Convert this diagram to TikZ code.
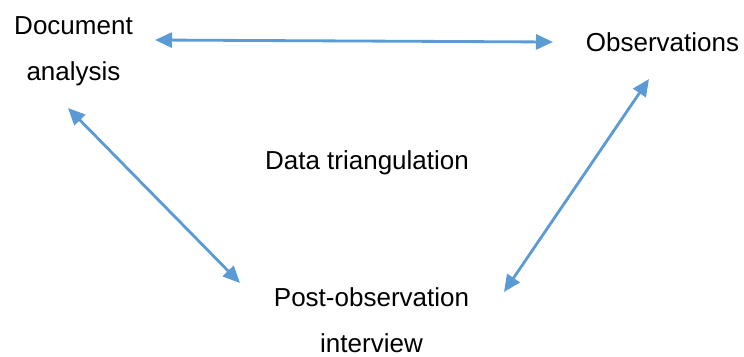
\documentclass[tikz,border=0pt]{standalone}
\usepackage{fontspec}
\setmainfont{Liberation Sans}
\usetikzlibrary{arrows.meta}
\definecolor{linkblue}{RGB}{91,155,213}
\begin{document}
\begin{tikzpicture}[
  w/.style={align=center, inner sep=0pt, font=\fontsize{14.8}{26.2}\selectfont},
  e/.style={linkblue, line width=1.6pt, {Triangle[length=0.34cm,width=0.3cm]}-{Triangle[length=0.34cm,width=0.3cm]}}
]
\useasboundingbox (0,0) rectangle (14.88,7.12);
% text at the three corners and in the middle
\node[w] (doc) at (1.47,6.10) {Document\\analysis};
\node[w] (obs) at (13.25,6.28) {Observations};
\node[w] (tri) at (7.34,3.86) {Data triangulation};
\node[w] (post) at (7.43,0.72) {Post-observation\\interview};

% arrow ends next to each label
\coordinate (doc-r) at (3.10,6.32);
\coordinate (obs-l) at (11.06,6.28);
\coordinate (doc-b) at (1.36,4.96);
\coordinate (post-l) at (4.80,1.46);
\coordinate (obs-b) at (12.98,5.54);
\coordinate (post-r) at (10.08,1.28);

\draw[e] (doc-r)--(obs-l);
\draw[e] (doc-b)--(post-l);
\draw[e] (obs-b)--(post-r);

\end{tikzpicture}
\end{document}
